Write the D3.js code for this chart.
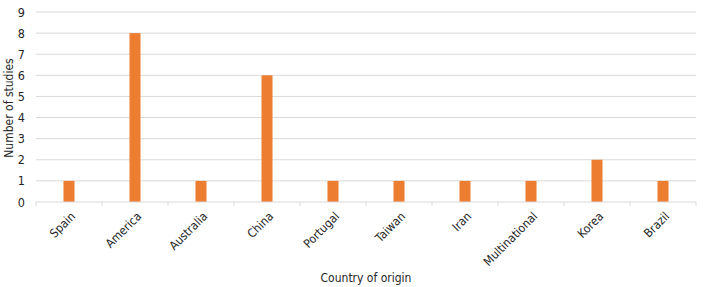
<!DOCTYPE html>
<html><head><meta charset="utf-8">
<script src="https://cdn.jsdelivr.net/npm/d3@7"></script>
<style>body{margin:0;background:#fff}svg{display:block}text{font-family:"DejaVu Sans Condensed","DejaVu Sans",Verdana,sans-serif;fill:#262626}</style>
</head><body><svg id="c" width="703" height="287"></svg>
<script>
const categories = ["Spain","America","Australia","China","Portugal","Taiwan","Iran","Multinational","Korea","Brazil"];
const values = [1,8,1,6,1,1,1,1,2,1];
const yTicks = [0,1,2,3,4,5,6,7,8,9];

const svg = d3.select("#c");
const m = {l:36, r:7, t:12, b:85};
const W = 703, H = 287;
const x = d3.scaleBand().domain(categories).range([m.l, W-m.r]);
const y = d3.scaleLinear().domain([0,9]).range([H-m.b, m.t]);

svg.append("g").selectAll("line").data(yTicks.filter(d=>d>0)).join("line")
  .attr("x1", m.l).attr("x2", W-m.r).attr("y1", d=>y(d)).attr("y2", d=>y(d))
  .attr("stroke", "#d9d9d9").attr("stroke-width", 1);

svg.append("g").selectAll("text").data(yTicks).join("text")
  .attr("x", 25).attr("y", d=>y(d)).attr("dy","0.36em").attr("text-anchor","end")
  .attr("font-size", 12.5).text(d=>d);

const bw = x.bandwidth()*0.167;
svg.append("g").selectAll("rect").data(categories).join("rect")
  .attr("x", d=>x(d)+x.bandwidth()/2-bw/2).attr("width", bw)
  .attr("y", (d,i)=>y(values[i])).attr("height", (d,i)=>y(0)-y(values[i]))
  .attr("fill", "#ED7D31");

svg.append("line").attr("x1", m.l).attr("x2", W-m.r).attr("y1", y(0)).attr("y2", y(0))
  .attr("stroke","#d9d9d9").attr("stroke-width",1);
const bounds = categories.map(d=>x(d)).concat([W-m.r]);
svg.append("g").selectAll("line").data(bounds).join("line")
  .attr("x1", d=>d).attr("x2", d=>d).attr("y1", y(0)).attr("y2", y(0)+4)
  .attr("stroke","#d9d9d9");

svg.append("g").selectAll("text").data(categories).join("text")
  .attr("transform", d=>`translate(${x(d)+x.bandwidth()/2+4},${y(0)+12}) rotate(-45)`)
  .attr("text-anchor","end").attr("dy","0.36em").attr("font-size", 12).text(d=>d);

svg.append("text").attr("x", (m.l+W-m.r)/2).attr("y", 282).attr("text-anchor","middle")
  .attr("font-size", 12).text("Country of origin");
svg.append("text").attr("transform", `translate(13,${(y(0)+y(9))/2+1}) rotate(-90)`)
  .attr("text-anchor","middle").attr("font-size", 12).text("Number of studies");
</script></body></html>
